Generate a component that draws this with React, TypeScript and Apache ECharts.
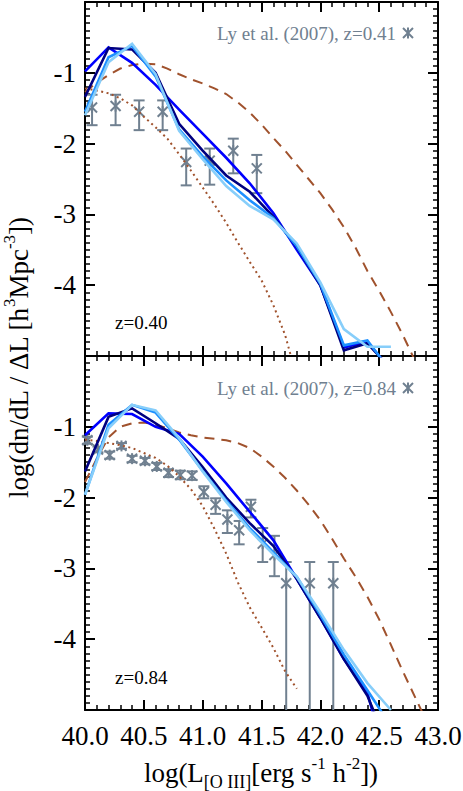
import React, { useEffect, useRef } from "react";
import * as echarts from "echarts";

// ---------- data ----------
const L_MODEL = [40.0, 40.2, 40.4, 40.6, 40.8, 41.0, 41.2, 41.4, 41.6, 41.8, 42.0, 42.2, 42.4, 42.6];

// z = 0.40 panel model curves
const TOP_NAVY = [-1.34, -0.65, -0.67, -1.0, -1.72, -2.1, -2.45, -2.68, -3.03, -3.46, -4.0, -4.92, -4.82, -5.18];
const TOP_BLUE = [-0.98, -0.64, -0.86, -1.17, -1.52, -1.86, -2.2, -2.56, -2.98, -3.5, -4.0, -4.88, -4.8, -5.2];
const TOP_MID = [-1.55, -0.78, -0.62, -1.05, -1.8, -2.18, -2.52, -2.8, -3.05, -3.45, -3.98, -4.85, -4.78, -5.22];
const TOP_LIGHT = [-1.6, -0.85, -0.59, -1.02, -1.82, -2.22, -2.6, -2.88, -3.07, -3.41, -3.96, -4.62, -4.87, -4.87];

// z = 0.84 panel model curves
const BOT_NAVY = [-1.63, -0.86, -0.74, -0.95, -1.17, -1.57, -2.0, -2.36, -2.68, -3.15, -3.7, -4.28, -4.8, -5.6];
const BOT_BLUE = [-1.12, -0.81, -0.82, -1.0, -1.1, -1.42, -1.8, -2.2, -2.6, -3.15, -3.7, -4.28, -4.76, -5.96];
const BOT_MID = [-1.96, -0.97, -0.69, -0.8, -1.18, -1.62, -2.04, -2.43, -2.77, -3.12, -3.66, -4.22, -4.72, -5.23];
const BOT_LIGHT = [-1.96, -1.02, -0.69, -0.77, -1.16, -1.63, -2.06, -2.46, -2.8, -3.12, -3.62, -4.15, -4.62, -5.0];

// brown dashed curves
const L_DASH_TOP = [40.0, 40.1, 40.2, 40.3, 40.4, 40.5, 40.6, 40.7, 40.8, 40.9, 41.0, 41.1, 41.2, 41.3, 41.4, 41.5, 41.6, 41.7, 41.8, 41.9, 42.0, 42.1, 42.2, 42.3, 42.4, 42.5, 42.6, 42.7, 42.8];
const TOP_DASH = [-1.27, -1.14, -1.03, -0.94, -0.89, -0.87, -0.88, -0.94, -1.02, -1.09, -1.15, -1.22, -1.3, -1.42, -1.56, -1.73, -1.92, -2.1, -2.3, -2.5, -2.7, -2.93, -3.18, -3.47, -3.8, -4.08, -4.38, -4.7, -5.05];
const L_DASH_BOT = [40.0, 40.1, 40.2, 40.3, 40.4, 40.5, 40.6, 40.7, 40.8, 40.9, 41.0, 41.1, 41.2, 41.3, 41.4, 41.5, 41.6, 41.7, 41.8, 41.9, 42.0, 42.1, 42.2, 42.3, 42.4, 42.5, 42.6, 42.7, 42.8, 42.9];
const BOT_DASH = [-1.78, -1.45, -1.15, -1.0, -0.95, -0.94, -0.97, -1.02, -1.08, -1.12, -1.15, -1.17, -1.19, -1.23, -1.3, -1.42, -1.56, -1.72, -1.9, -2.1, -2.32, -2.58, -2.86, -3.12, -3.4, -3.72, -4.08, -4.45, -4.8, -5.15];

// brown dotted curves
const L_DOT = [40.0, 40.1, 40.2, 40.3, 40.4, 40.5, 40.6, 40.7, 40.8, 40.9, 41.0, 41.1, 41.2, 41.3, 41.4, 41.5, 41.6, 41.7, 41.8];
const TOP_DOT = [-1.22, -1.25, -1.29, -1.36, -1.46, -1.62, -1.77, -1.93, -2.15, -2.38, -2.62, -2.86, -3.12, -3.4, -3.67, -3.93, -4.28, -4.7, -5.3];
const BOT_DOT = [-1.18, -1.2, -1.23, -1.26, -1.3, -1.37, -1.44, -1.55, -1.7, -1.88, -2.12, -2.44, -2.79, -3.2, -3.55, -3.83, -4.12, -4.45, -4.7];

// Ly et al. (2007) observations
const TOP_OBS_L = [40.06, 40.26, 40.46, 40.66, 40.86, 41.06, 41.26, 41.46];
const TOP_OBS_V = [-1.49, -1.47, -1.55, -1.55, -2.26, -2.24, -2.1, -2.35];
const TOP_OBS_HI = [-1.31, -1.31, -1.39, -1.39, -2.07, -2.07, -1.93, -2.16];
const TOP_OBS_LO = [-1.74, -1.74, -1.81, -1.81, -2.59, -2.58, -2.42, -2.7];

const BOT_OBS_L = [40.02, 40.11, 40.21, 40.31, 40.4, 40.51, 40.61, 40.71, 40.81, 40.91, 41.01, 41.11, 41.21, 41.31, 41.41, 41.51, 41.61, 41.71, 41.91, 42.11];
const BOT_OBS_V = [-1.19, -1.32, -1.4, -1.27, -1.45, -1.48, -1.56, -1.65, -1.68, -1.69, -1.92, -2.1, -2.31, -2.46, -2.13, -2.65, -2.81, -3.21, -3.21, -3.21];
const BOT_OBS_HI = [-1.14, -1.28, -1.35, -1.23, -1.41, -1.44, -1.51, -1.6, -1.62, -1.63, -1.84, -2.01, -2.18, -2.33, -2.03, -2.43, -2.54, -2.91, -2.91, -2.91];
const BOT_OBS_LO = [-1.24, -1.36, -1.45, -1.31, -1.5, -1.53, -1.61, -1.71, -1.74, -1.75, -2.01, -2.23, -2.5, -2.66, -2.28, -2.91, -3.11, -9, -9, -9];

const X_MIN = 40, X_MAX = 43, X_STEP = 0.5;
const Y_MIN = -5, Y_MAX = 0, Y_STEP = 1;

// ---------- styles ----------
const FONT = '"Liberation Serif", "Times New Roman", Times, serif';
const GREY = "#708090";
const BROWN = "#a0522d";
const NAVY = "#000080";
const BLUE = "#0000ff";
const MID = "#1e90ff";
const LIGHT = "#87cefa";

const zip = (xs: number[], ys: number[]) => xs.map((x, i) => [x, ys[i]]);

function xAxis(gridIndex: number, position: string, showLabel: boolean) {
  return {
    type: "value",
    gridIndex,
    position,
    min: X_MIN,
    max: X_MAX,
    interval: X_STEP,
    axisLine: { show: true, onZero: false, lineStyle: { color: "#000", width: 2 } },
    axisTick: { show: true, inside: true, length: 10, lineStyle: { color: "#000", width: 2 } },
    minorTick: { show: true, splitNumber: 5, length: 5, lineStyle: { color: "#000", width: 1.5 } },
    splitLine: { show: false },
    minorSplitLine: { show: false },
    axisLabel: {
      show: showLabel,
      margin: 12,
      fontSize: 27,
      fontFamily: FONT,
      color: "#000",
      showMinLabel: true,
      showMaxLabel: true,
      formatter: (v: number) => v.toFixed(1),
    },
  };
}

function yAxis(gridIndex: number, position: string, showLabel: boolean) {
  return {
    type: "value",
    gridIndex,
    position,
    min: Y_MIN,
    max: Y_MAX,
    interval: Y_STEP,
    axisLine: { show: true, onZero: false, lineStyle: { color: "#000", width: 2 } },
    axisTick: { show: true, inside: true, length: 10, lineStyle: { color: "#000", width: 2 } },
    minorTick: { show: true, splitNumber: 10, length: 5, lineStyle: { color: "#000", width: 1.5 } },
    splitLine: { show: false },
    minorSplitLine: { show: false },
    axisLabel: {
      show: showLabel,
      margin: 9,
      fontSize: 27,
      fontFamily: FONT,
      color: "#000",
      showMinLabel: false,
      showMaxLabel: false,
      formatter: (v: number) => String(v),
    },
  };
}

function lineSeries(idx: number, xs: number[], ys: number[], color: string, width: number, type: any, z: number) {
  return {
    type: "line",
    xAxisIndex: idx * 2,
    yAxisIndex: idx * 2,
    data: zip(xs, ys),
    showSymbol: false,
    symbol: "none",
    clip: true,
    silent: true,
    z,
    lineStyle: { color, width, type, cap: "butt", join: "miter" },
  };
}

function obsSeries(idx: number, L: number[], V: number[], HI: number[], LO: number[]) {
  return {
    type: "custom",
    xAxisIndex: idx * 2,
    yAxisIndex: idx * 2,
    silent: true,
    z: 2,
    data: L.map((x, i) => [x, V[i], HI[i], LO[i]]),
    encode: { x: 0, y: [1, 2, 3] },
    renderItem: (params: any, api: any) => {
      const cs = params.coordSys;
      const x = api.value(0);
      const pc = api.coord([x, api.value(1)]);
      const ph = api.coord([x, api.value(2)]);
      const pl = api.coord([x, api.value(3)]);
      const top = cs.y;
      const bottom = cs.y + cs.height;
      const st = { stroke: GREY, lineWidth: 2, fill: "none" };
      const cx = pc[0];
      const cy = pc[1];
      const yH = Math.max(top, ph[1]);
      const yL = Math.min(bottom, pl[1]);
      const cw = 5.5;
      const a = 5;
      const children: any[] = [
        { type: "line", shape: { x1: cx, y1: yH, x2: cx, y2: yL }, style: st },
      ];
      if (ph[1] >= top) children.push({ type: "line", shape: { x1: cx - cw, y1: ph[1], x2: cx + cw, y2: ph[1] }, style: st });
      if (pl[1] <= bottom) children.push({ type: "line", shape: { x1: cx - cw, y1: pl[1], x2: cx + cw, y2: pl[1] }, style: st });
      children.push({ type: "line", shape: { x1: cx, y1: cy - a - 0.5, x2: cx, y2: cy + a + 0.5 }, style: st });
      children.push({ type: "line", shape: { x1: cx - a, y1: cy - a, x2: cx + a, y2: cy + a }, style: st });
      children.push({ type: "line", shape: { x1: cx - a, y1: cy + a, x2: cx + a, y2: cy - a }, style: st });
      return { type: "group", children };
    },
  };
}

function panelSeries(idx: number, d: any) {
  return [
    obsSeries(idx, d.obsL, d.obsV, d.obsHi, d.obsLo),
    lineSeries(idx, L_DOT, d.dot, BROWN, 2, [2, 3.5], 3),
    lineSeries(idx, d.dashL, d.dash, BROWN, 2, [10, 7], 3),
    lineSeries(idx, L_MODEL, d.blue, BLUE, 2.6, "solid", 4),
    lineSeries(idx, L_MODEL, d.navy, NAVY, 2.6, "solid", 4),
    lineSeries(idx, L_MODEL, d.mid, MID, 2.6, "solid", 4),
    lineSeries(idx, L_MODEL, d.light, LIGHT, 2.6, "solid", 4),
  ];
}

function legendMark(x: number, y: number) {
  const a = 5;
  const st = { stroke: GREY, lineWidth: 2 };
  return {
    type: "group",
    x,
    y,
    children: [
      { type: "line", shape: { x1: 0, y1: -a - 0.5, x2: 0, y2: a + 0.5 }, style: st },
      { type: "line", shape: { x1: -a, y1: -a, x2: a, y2: a }, style: st },
      { type: "line", shape: { x1: -a, y1: a, x2: a, y2: -a }, style: st },
    ],
  };
}

const richBase = {
  b: { fontSize: 27, fontFamily: FONT, fill: "#000", color: "#000", lineHeight: 36, verticalAlign: "middle" },
  s: { fontSize: 17, fontFamily: FONT, fill: "#000", color: "#000", lineHeight: 17, verticalAlign: "top" },
  u: { fontSize: 18, fontFamily: FONT, fill: "#000", color: "#000", lineHeight: 18, verticalAlign: "bottom" },
};

export default function App() {
  const ref = useRef<HTMLDivElement>(null);

  useEffect(() => {
    if (!ref.current) return;
    const chart = echarts.init(ref.current, null, { renderer: "svg" });

    const top = {
      obsL: TOP_OBS_L, obsV: TOP_OBS_V, obsHi: TOP_OBS_HI, obsLo: TOP_OBS_LO,
      dot: TOP_DOT, dashL: L_DASH_TOP, dash: TOP_DASH,
      navy: TOP_NAVY, blue: TOP_BLUE, mid: TOP_MID, light: TOP_LIGHT,
    };
    const bot = {
      obsL: BOT_OBS_L, obsV: BOT_OBS_V, obsHi: BOT_OBS_HI, obsLo: BOT_OBS_LO,
      dot: BOT_DOT, dashL: L_DASH_BOT, dash: BOT_DASH,
      navy: BOT_NAVY, blue: BOT_BLUE, mid: BOT_MID, light: BOT_LIGHT,
    };

    const option: any = {
      animation: false,
      backgroundColor: "#fff",
      textStyle: { fontFamily: FONT },
      grid: [
        { left: 85, top: 2, width: 353, height: 354, containLabel: false, outerBoundsMode: "none" },
        { left: 85, top: 356, width: 353, height: 354, containLabel: false, outerBoundsMode: "none" },
      ],
      xAxis: [
        xAxis(0, "bottom", false),
        xAxis(0, "top", false),
        xAxis(1, "bottom", true),
        xAxis(1, "top", false),
      ],
      yAxis: [
        yAxis(0, "left", true),
        yAxis(0, "right", false),
        yAxis(1, "left", true),
        yAxis(1, "right", false),
      ],
      series: [...panelSeries(0, top), ...panelSeries(1, bot)],
      graphic: [
        {
          type: "text", x: 396, y: 33, silent: true,
          style: { text: "Ly et al. (2007), z=0.41", align: "right", verticalAlign: "middle", fontSize: 19, fontFamily: FONT, fill: GREY },
        },
        legendMark(408, 33),
        {
          type: "text", x: 396, y: 388, silent: true,
          style: { text: "Ly et al. (2007), z=0.84", align: "right", verticalAlign: "middle", fontSize: 19, fontFamily: FONT, fill: GREY },
        },
        legendMark(408, 388),
        {
          type: "text", x: 115, y: 322, silent: true,
          style: { text: "z=0.40", align: "left", verticalAlign: "middle", fontSize: 19, fontFamily: FONT, fill: "#000" },
        },
        {
          type: "text", x: 115, y: 677, silent: true,
          style: { text: "z=0.84", align: "left", verticalAlign: "middle", fontSize: 19, fontFamily: FONT, fill: "#000" },
        },
        {
          type: "text", x: 19, y: 358, rotation: Math.PI / 2, silent: true,
          style: {
            text: "{b|log(dn/dL / ΔL [h}{s|3}{b|Mpc}{s|-3}{b|])}",
            align: "center", verticalAlign: "middle",
            fontSize: 27, fontFamily: FONT, fill: "#000",
            rich: richBase,
          },
        },
        {
          type: "text", x: 261, y: 773, silent: true,
          style: {
            text: "{b|log(L}{u|[O III]}{b|[erg s}{s|-1}{b| h}{s|-2}{b|])}",
            align: "center", verticalAlign: "middle",
            fontSize: 27, fontFamily: FONT, fill: "#000",
            rich: richBase,
          },
        },
      ],
    };

    chart.setOption(option);
    return () => chart.dispose();
  }, []);

  return (
    <div
      ref={ref}
      style={{ position: "fixed", left: 0, top: 0, width: 463, height: 791, background: "#fff" }}
    />
  );
}
